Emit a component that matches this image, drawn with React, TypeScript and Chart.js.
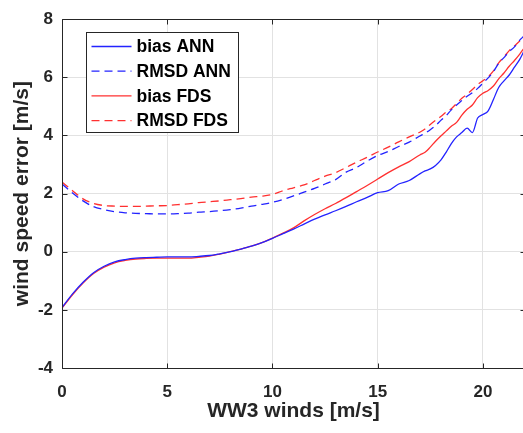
import React, { useEffect, useRef } from "react";
import { Chart, registerables } from "chart.js";

Chart.register(...registerables);

// WW3 wind speed [m/s]
const xWinds = [
  0, 0.5, 1, 1.5, 2, 2.5, 3, 3.5, 4, 4.5, 5, 5.5, 6, 6.5, 7, 7.5, 8, 8.5, 9, 9.5,
  10, 10.5, 11, 11.5, 12, 12.5, 13, 13.5, 14, 14.5, 15, 15.5, 16, 16.5, 17,
  17.25, 17.5, 17.75, 18, 18.25, 18.5, 18.75, 19, 19.25, 19.5, 19.75, 20, 20.25,
  20.5, 20.75, 21, 21.25, 21.5, 21.75, 21.95,
];

const biasANN = [
  -1.92, -1.45, -1.05, -0.72, -0.5, -0.35, -0.27, -0.22, -0.2, -0.19, -0.18, -0.18,
  -0.18, -0.16, -0.13, -0.07, 0.0, 0.09, 0.19, 0.31, 0.46, 0.62, 0.78, 0.95, 1.12,
  1.27, 1.41, 1.56, 1.72, 1.87, 2.03, 2.1, 2.33, 2.45, 2.68,
  2.78, 2.85, 2.97, 3.15, 3.42, 3.72, 3.95, 4.1, 4.25, 4.1, 4.6, 4.72, 4.85, 5.24,
  5.65, 5.88, 6.08, 6.35, 6.62, 6.9,
];

const rmsdANN = [
  2.33, 2.02, 1.75, 1.55, 1.45, 1.38, 1.34, 1.32, 1.31, 1.3, 1.3, 1.31, 1.33, 1.36,
  1.38, 1.41, 1.45, 1.5, 1.57, 1.63, 1.7, 1.8, 1.92, 2.05, 2.18, 2.33, 2.48, 2.74,
  2.9, 3.12, 3.31, 3.45, 3.62, 3.77, 3.98,
  4.08, 4.2, 4.34, 4.52, 4.68, 4.88, 5.05, 5.2, 5.35, 5.47, 5.62, 5.8, 5.98, 6.2,
  6.48, 6.68, 6.88, 7.05, 7.28, 7.42,
];

const biasFDS = [
  -1.94, -1.48, -1.08, -0.75, -0.53, -0.38, -0.3, -0.25, -0.23, -0.22, -0.22, -0.22,
  -0.22, -0.19, -0.15, -0.08, 0.0, 0.09, 0.19, 0.31, 0.47, 0.64, 0.82, 1.06, 1.28,
  1.48, 1.66, 1.86, 2.07, 2.28, 2.5, 2.72, 2.92, 3.1, 3.33,
  3.42, 3.6, 3.8, 3.98, 4.15, 4.32, 4.45, 4.7, 4.9, 5.05, 5.3, 5.45, 5.55, 5.7,
  5.95, 6.15, 6.38, 6.58, 6.8, 7.0,
];

const rmsdFDS = [
  2.4, 2.1, 1.82, 1.66, 1.59, 1.57, 1.56, 1.56, 1.57, 1.58, 1.59, 1.62, 1.65, 1.69,
  1.72, 1.75, 1.79, 1.83, 1.88, 1.91, 1.97, 2.1, 2.2, 2.3, 2.45, 2.6, 2.72, 2.9,
  3.08, 3.25, 3.43, 3.6, 3.78, 3.95, 4.11,
  4.22, 4.38, 4.52, 4.65, 4.8, 4.92, 5.1, 5.28, 5.42, 5.58, 5.75, 5.88, 6.02, 6.22,
  6.5, 6.7, 6.92, 7.08, 7.25, 7.35,
];

const seriesLabels = ["bias ANN", "RMSD ANN", "bias FDS", "RMSD FDS"];
const xAxisTitle = "WW3 winds [m/s]";
const yAxisTitle = "wind speed error [m/s]";
const xRange = [0, 22];
const yRange = [-4, 8];
const xStep = 5;
const yStep = 2;

const AXIS = "#262626";
const GRID = "#e2e2e2";
const BLUE = "#2323ff";
const RED = "#ff3030";
const FONT = "'Liberation Sans', Arial, Helvetica, sans-serif";

const toPoints = (ys: number[]) => xWinds.map((x, i) => ({ x, y: ys[i] }));

const matlabBox = {
  id: "matlabBox",
  afterDatasetsDraw(chart: any) {
    const { ctx, chartArea: a, scales } = chart;
    ctx.save();
    ctx.strokeStyle = AXIS;
    ctx.lineWidth = 1;
    const L = Math.round(a.left) + 0.5;
    const R = Math.round(a.right) + 0.5;
    const T = Math.round(a.top) + 0.5;
    const B = Math.round(a.bottom) + 0.5;
    ctx.beginPath();
    ctx.moveTo(L, T);
    ctx.lineTo(R, T);
    ctx.lineTo(R, B);
    ctx.lineTo(L, B);
    ctx.closePath();
    ctx.stroke();
    const tl = 5;
    ctx.beginPath();
    scales.x.ticks.forEach((t: any) => {
      const px = Math.round(scales.x.getPixelForValue(t.value)) + 0.5;
      ctx.moveTo(px, B);
      ctx.lineTo(px, B - tl);
      ctx.moveTo(px, T);
      ctx.lineTo(px, T + tl);
    });
    scales.y.ticks.forEach((t: any) => {
      const py = Math.round(scales.y.getPixelForValue(t.value)) + 0.5;
      ctx.moveTo(L, py);
      ctx.lineTo(L + tl, py);
      ctx.moveTo(R, py);
      ctx.lineTo(R - tl, py);
    });
    ctx.stroke();

    // legend box
    const bx = Math.round(a.left) + 24.5;
    const by = Math.round(a.top) + 13.5;
    const bw = 152;
    const bh = 100;
    ctx.fillStyle = "#ffffff";
    ctx.fillRect(bx, by, bw, bh);
    ctx.strokeStyle = AXIS;
    ctx.lineWidth = 1;
    ctx.strokeRect(bx, by, bw, bh);
    ctx.font = `bold 17.5px ${FONT}`;
    ctx.textBaseline = "middle";
    ctx.textAlign = "left";
    chart.data.datasets.forEach((ds: any, i: number) => {
      const ry = by + 14 + i * 24.7;
      ctx.save();
      ctx.strokeStyle = ds.borderColor;
      ctx.lineWidth = ds.borderWidth;
      ctx.setLineDash(ds.borderDash || []);
      ctx.beginPath();
      ctx.moveTo(bx + 5, ry);
      ctx.lineTo(bx + 45, ry);
      ctx.stroke();
      ctx.restore();
      ctx.fillStyle = "#000000";
      ctx.fillText(ds.label, bx + 50, ry + 1);
    });
    ctx.restore();
  },
};

export default function App() {
  const ref = useRef<HTMLCanvasElement>(null);

  useEffect(() => {
    if (!ref.current) return;
    const tickFont = { family: FONT, size: 17, weight: "bold" as const };
    const titleFont = { family: FONT, size: 21, weight: "bold" as const };
    const chart = new Chart(ref.current, {
      type: "line",
      data: {
        datasets: [
          { label: seriesLabels[0], data: toPoints(biasANN), borderColor: BLUE, borderWidth: 1.3, borderDash: [] },
          { label: seriesLabels[1], data: toPoints(rmsdANN), borderColor: BLUE, borderWidth: 1.3, borderDash: [8, 5] },
          { label: seriesLabels[2], data: toPoints(biasFDS), borderColor: RED, borderWidth: 1.3, borderDash: [] },
          { label: seriesLabels[3], data: toPoints(rmsdFDS), borderColor: RED, borderWidth: 1.3, borderDash: [8, 5] },
        ],
      },
      options: {
        responsive: false,
        animation: false,
        parsing: false as any,
        elements: {
          point: { radius: 0 },
          line: { cubicInterpolationMode: "monotone", fill: false },
        },
        layout: { padding: { top: 16, right: 15, left: 0, bottom: 0 } },
        plugins: { legend: { display: false }, tooltip: { enabled: false } },
        scales: {
          x: {
            type: "linear",
            min: xRange[0],
            max: xRange[1],
            afterFit: (s: any) => {
              s.height = 65;
            },
            ticks: {
              stepSize: xStep,
              includeBounds: false,
              font: tickFont,
              color: AXIS,
              padding: 14,
              maxRotation: 0,
            },
            grid: { color: GRID, drawTicks: false },
            border: { display: false },
            title: {
              display: true,
              text: xAxisTitle,
              font: titleFont,
              color: AXIS,
              padding: { top: 0, bottom: 9 },
            },
          },
          y: {
            type: "linear",
            min: yRange[0],
            max: yRange[1],
            afterFit: (s: any) => {
              s.width = 62;
            },
            ticks: {
              stepSize: yStep,
              includeBounds: false,
              font: tickFont,
              color: AXIS,
              padding: 9,
            },
            grid: { color: GRID, drawTicks: false },
            border: { display: false },
            title: {
              display: true,
              text: yAxisTitle,
              font: titleFont,
              color: AXIS,
              padding: { top: 10, bottom: 0 },
            },
          },
        },
      },
      plugins: [matlabBox],
    });
    return () => chart.destroy();
  }, []);

  return (
    <div
      style={{
        position: "fixed",
        left: 0,
        top: 0,
        width: 523,
        height: 433,
        overflow: "hidden",
        background: "#ffffff",
      }}
    >
      <canvas ref={ref} width={540} height={433} style={{ display: "block" }} />
    </div>
  );
}
